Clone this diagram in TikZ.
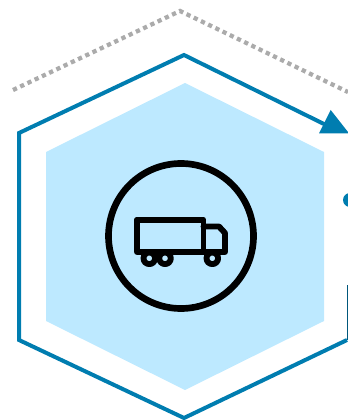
\documentclass[tikz,border=0pt]{standalone}
\usepackage{xcolor}
\usetikzlibrary{calc}
\definecolor{hexblue}{HTML}{007DB0}
\definecolor{hexfill}{HTML}{BDE9FF}
\definecolor{dotgray}{HTML}{ABABAB}
\tikzset{
  hexline/.style={draw=hexblue,line width=3pt,line join=miter},
  iconline/.style={draw=black,line width=4.4pt,line join=round,line cap=round},
}
\begin{document}
\begin{tikzpicture}[x=0.75pt,y=-0.75pt]
\path[use as bounding box] (0,0) rectangle (348,420);
\clip (0,0) rectangle (348,420);

\coordinate (C) at (181,236);
\coordinate (W1) at (149.3,258.3);
\coordinate (W2) at (165,258.3);
\coordinate (W3) at (212.3,258.3);

% inner hexagon
\fill[hexfill] (185,83) -- (324,152) -- (324,321) -- (185,390) -- (46,321) -- (46,152) -- cycle;

% dotted track
\draw[dotgray,line width=3.2pt,dash pattern=on 3.2pt off 2.8pt] (13,90) -- (180,11) -- (348,92);

% outer hexagon
\draw[hexline] (326,125) -- (184,55) -- (19,133) -- (19,340) -- (184,418) -- (347,340);
\draw[hexblue!70!black,line width=0.6pt] (347.7,340) -- (347.7,285);
\fill[hexblue] (330.7,110) -- (349,133.3) -- (319,133.3) -- cycle;
\fill[hexblue] (350,200) circle (7);

% truck
\draw[iconline,line width=5pt] (C) circle (72.5);
\draw[iconline] (137,220) -- (203.5,220) -- (203.5,252);
\draw[iconline] (203.5,226.5) -- (219,226.5) -- (225,233) -- (225,252) -- (137,252) -- (137,220);
\foreach \W in {W1,W2,W3}{\draw[iconline,fill=hexfill] (\W) circle (5.8);}
\end{tikzpicture}
\end{document}
